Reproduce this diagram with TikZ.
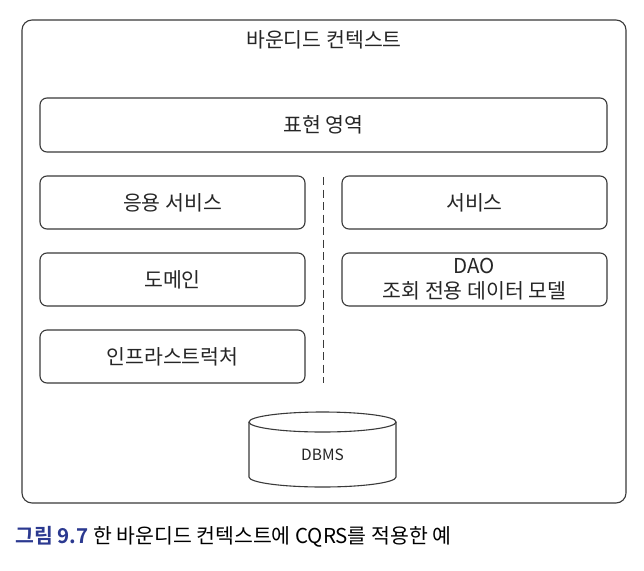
\documentclass[tikz,border=0pt]{standalone}
\usepackage{fontspec}
\setmainfont{Noto Sans CJK KR}
\newfontfamily\krbold{Noto Sans CJK KR Bold}
\definecolor{linegray}{HTML}{3A3A3A}
\definecolor{capblue}{HTML}{2B3990}
\begin{document}
\begin{tikzpicture}[x=1pt,y=-1pt,
  box/.style={draw=linegray,line width=1.1pt,rounded corners=7pt},
  lbl/.style={font=\fontsize{20.5}{25}\selectfont,text=black!85,align=center}]
\useasboundingbox[fill=white] (0,0) rectangle (644,570);
\draw[box,rounded corners=10pt] (22,20) rectangle (626,503);
\node[lbl] (title) at (324,40) {바운디드 컨텍스트};
\draw[box] (40,98) rectangle (607,152);
\node[lbl] (pres) at (323.5,125) {표현 영역};
\draw[box] (40,176) rectangle (305,229);
\node[lbl] (app) at (172.5,202.5) {응용 서비스};
\draw[box] (40,253) rectangle (305,306);
\node[lbl] (dom) at (172.5,279.5) {도메인};
\draw[box] (40,330) rectangle (305,383);
\node[lbl] (infra) at (172.5,356.5) {인프라스트럭처};
\draw[box] (342,176) rectangle (607,229);
\node[lbl] (svc) at (474.5,202.5) {서비스};
\draw[box] (342,253) rectangle (607,306);
\node[lbl] (dao) at (474.5,279.5) {DAO\\조회 전용 데이터 모델};
\coordinate (dtop) at (323,177);
\coordinate (dbot) at (323,383);
\draw[linegray,line width=1pt,dash pattern=on 8pt off 4.5pt] (dtop) -- (dbot);
% cylinder
\draw[linegray,line width=1.1pt] (322.5,422) ellipse [x radius=73.5pt,y radius=10pt];
\draw[linegray,line width=1.1pt] (249,422) -- (249,477) arc[start angle=180,end angle=360,x radius=73.5pt,y radius=10pt] -- (396,422);
\node[lbl,font=\fontsize{15.5}{18}\selectfont] (dbms) at (322.5,455) {DBMS};
\node[anchor=west,font=\fontsize{20.5}{24}\selectfont,inner sep=0pt] (cap) at (15,537) {{\krbold\color{capblue}그림 9.7} 한 바운디드 컨텍스트에 CQRS를 적용한 예};
\end{tikzpicture}
\end{document}
